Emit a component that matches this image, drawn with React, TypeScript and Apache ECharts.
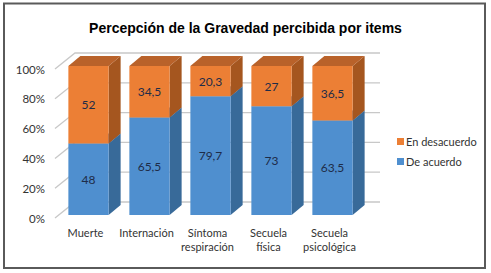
import React, { useEffect, useRef } from "react";
import * as echarts from "echarts";

const categories = ["Muerte", "Internación", "Síntoma\nrespiración", "Secuela\nfísica", "Secuela\npsicológica"];
const deAcuerdo = [48, 65.5, 79.7, 73, 63.5];
const enDesacuerdo = [52, 34.5, 20.3, 27, 36.5];
const yTicks = [0, 20, 40, 60, 80, 100];

const WALL_DX = 20;
const WALL_DY = -16;
const BAR_FX = 3;
const BAR_FY = -3;
const BAR_DX = 12;
const BAR_DY = -10;

function shade(front: string, side: string, top: string) {
  return { front, side, top };
}
const blue = shade("#4F8FCF", "#386A99", "#4577A8");
const orange = shade("#EC7F35", "#A5561F", "#B9622A");

function fmt(v: number) {
  return String(v).replace(".", ",");
}

function makeBarSeries(name: string, values: number[], base: number[], col: { front: string; side: string; top: string }) {
  return {
    name,
    type: "custom",
    itemStyle: { color: col.front },
    data: values.map((v, i) => [i, base[i], base[i] + v, v]),
    encode: { x: 0, y: [1, 2] },
    renderItem: (params: any, api: any) => {
      const i = api.value(0);
      const start = api.value(1);
      const end = api.value(2);
      const v = api.value(3);
      const pTop = api.coord([i, end]);
      const pBot = api.coord([i, start]);
      const bw = api.size([1, 0])[0] * 0.66;
      const xl = pTop[0] - bw / 2 + BAR_FX;
      const xr = xl + bw;
      const yt = pTop[1] + BAR_FY;
      const yb = pBot[1] + BAR_FY;
      return {
        type: "group",
        children: [
          {
            type: "polygon",
            shape: { points: [[xr, yt], [xr + BAR_DX, yt + BAR_DY], [xr + BAR_DX, yb + BAR_DY], [xr, yb]] },
            style: { fill: col.side },
          },
          {
            type: "polygon",
            shape: { points: [[xl, yt], [xl + BAR_DX, yt + BAR_DY], [xr + BAR_DX, yt + BAR_DY], [xr, yt]] },
            style: { fill: col.top },
          },
          {
            type: "rect",
            shape: { x: xl, y: yt, width: bw, height: yb - yt },
            style: { fill: col.front },
          },
          {
            type: "text",
            x: (xl + xr) / 2,
            y: (yt + yb) / 2,
            style: {
              text: fmt(v),
              fill: "#1E2C48",
              font: "12px Lato",
              textAlign: "center",
              textVerticalAlign: "middle",
            },
          },
        ],
      };
    },
  };
}

export default function App() {
  const ref = useRef<HTMLDivElement>(null);
  useEffect(() => {
    document.body.style.margin = "0";
    const chart = echarts.init(ref.current!, null, { renderer: "svg" });
    const base0 = deAcuerdo.map(() => 0);
    chart.setOption({
      animation: false,
      backgroundColor: "#ffffff",
      title: {
        text: "Percepción de la Gravedad percibida por items",
        left: "center",
        top: 16,
        textStyle: { fontFamily: "Liberation Sans", fontWeight: "bold", fontSize: 14, color: "#000" },
      },
      graphic: [
        {
          type: "rect",
          shape: { x: 4, y: 3.5, width: 481, height: 264.5 },
          style: { fill: "none", stroke: "#5a5a5a", lineWidth: 2 },
          z: 100,
        },
      ],
      legend: {
        orient: "vertical",
        left: 392,
        top: 131,
        icon: "rect",
        itemWidth: 7,
        itemHeight: 7,
        itemGap: 9,
        data: ["En desacuerdo", "De acuerdo"],
        textStyle: { fontFamily: "Lato", fontSize: 11, color: "#333", padding: [0, 0, 0, -3] },
      },
      grid: { left: 55, right: 131, top: 69, bottom: 55 },
      xAxis: {
        type: "category",
        data: categories,
        axisLine: { show: false },
        axisTick: { show: false },
        axisLabel: { fontFamily: "Lato", fontSize: 11, color: "#333", lineHeight: 14, margin: 7, interval: 0 },
      },
      yAxis: {
        type: "value",
        min: 0,
        max: 100,
        interval: 20,
        axisLine: { show: false },
        axisTick: { show: false },
        splitLine: { show: false },
        axisLabel: { formatter: "{value}%", fontFamily: "Lato", fontSize: 11.5, color: "#333", margin: 10 },
      },
      series: [
        {
          type: "custom",
          silent: true,
          data: yTicks.map((t) => [0, t]),
          encode: { x: 0, y: 1 },
          renderItem: (params: any, api: any) => {
            const y = api.coord([0, api.value(1)])[1];
            const x0 = params.coordSys.x;
            const x1 = x0 + params.coordSys.width;
            return {
              type: "polyline",
              shape: { points: [[x0, y], [x0 + WALL_DX, y + WALL_DY], [x1 + WALL_DX, y + WALL_DY]] },
              style: { stroke: "#c8c8c8", lineWidth: 1.3, fill: "none" },
            };
          },
          z: 1,
        },
        makeBarSeries("De acuerdo", deAcuerdo, base0, blue),
        makeBarSeries("En desacuerdo", enDesacuerdo, deAcuerdo, orange),
      ],
    });
    return () => chart.dispose();
  }, []);
  return <div ref={ref} style={{ width: 491, height: 273 }} />;
}
